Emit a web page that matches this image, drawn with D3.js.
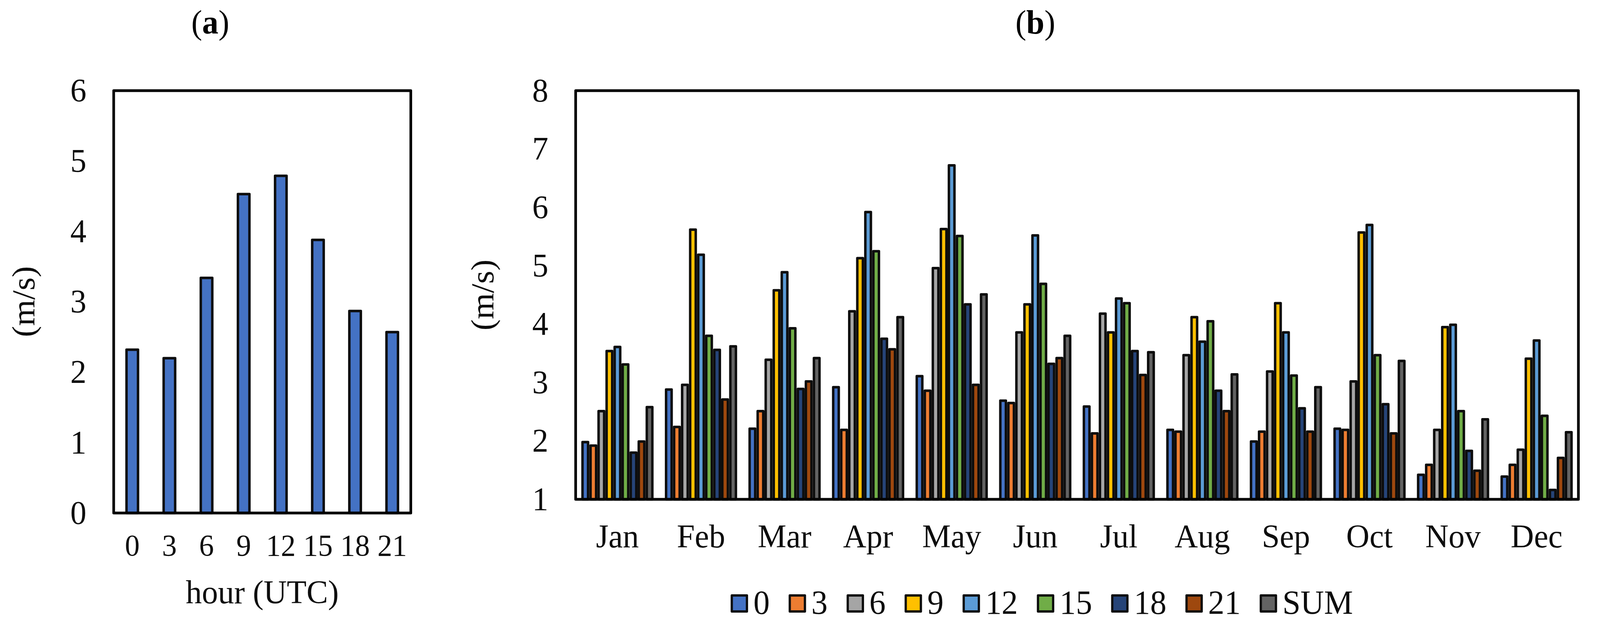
<!DOCTYPE html>
<html>
<head>
<meta charset="utf-8">
<script src="https://cdn.jsdelivr.net/npm/d3@7"></script>
<style>
  html, body { margin: 0; padding: 0; background: #fff; overflow: hidden; }
  svg { display: block; }
</style>
</head>
<body>
<div id="chart"></div>
<script>
// panel (a): mean wind speed by hour
const hours = ["0", "3", "6", "9", "12", "15", "18", "21"];
const hourlyMean = [2.32, 2.20, 3.34, 4.53, 4.79, 3.88, 2.87, 2.57];

// panel (b): monthly wind speed per observation hour
const months = ["Jan", "Feb", "Mar", "Apr", "May", "Jun", "Jul", "Aug", "Sep", "Oct", "Nov", "Dec"];
const seriesNames = ["0", "3", "6", "9", "12", "15", "18", "21", "SUM"];
const seriesColors = ["#4472C4", "#ED7D31", "#A5A5A5", "#FFC000", "#5B9BD5", "#70AD47", "#264478", "#9E480E", "#636363"];

const h00 = [1.98, 2.88, 2.21, 2.92, 3.11, 2.69, 2.59, 2.19, 1.99, 2.21, 1.42, 1.39];
const h03 = [1.92, 2.24, 2.51, 2.19, 2.86, 2.65, 2.13, 2.16, 2.16, 2.19, 1.59, 1.59];
const h06 = [2.51, 2.96, 3.39, 4.22, 4.96, 3.86, 4.18, 3.47, 3.19, 3.02, 2.19, 1.85];
const h09 = [3.54, 5.62, 4.58, 5.13, 5.63, 4.34, 3.86, 4.12, 4.36, 5.57, 3.95, 3.41];
const h12 = [3.61, 5.19, 4.89, 5.92, 6.72, 5.52, 4.44, 3.70, 3.86, 5.70, 3.99, 3.72];
const h15 = [3.31, 3.80, 3.93, 5.25, 5.51, 4.69, 4.36, 4.05, 3.12, 3.47, 2.51, 2.43];
const h18 = [1.80, 3.56, 2.89, 3.75, 4.34, 3.32, 3.54, 2.86, 2.56, 2.63, 1.83, 1.16];
const h21 = [1.99, 2.71, 3.02, 3.57, 2.96, 3.42, 3.13, 2.51, 2.16, 2.13, 1.49, 1.71];
const hSum = [2.58, 3.62, 3.42, 4.12, 4.51, 3.80, 3.52, 3.14, 2.92, 3.37, 2.37, 2.15];

const ticksA = [0, 1, 2, 3, 4, 5, 6];
const ticksB = [1, 2, 3, 4, 5, 6, 7, 8];

const seriesValues = [h00, h03, h06, h09, h12, h15, h18, h21, hSum];

// flat table for the grouped bars
const table = [];
months.forEach((m, i) => {
  seriesNames.forEach((s, j) => {
    table.push({ month: m, series: s, value: seriesValues[j][i], color: seriesColors[j] });
  });
});

const font = "'Liberation Serif', 'Times New Roman', serif";
const ink = "#0d0d0d";
const barStroke = 6.5;

// drawn in a 4222x1615 user space, stretched to whatever the viewport is
const svg = d3.select("#chart")
  .append("svg")
  .attr("viewBox", "0 0 4222 1615")
  .attr("preserveAspectRatio", "none")
  .style("width", "100vw")
  .style("height", "100vh")
  .style("background-color", "#fff");

// ---------- panel (a) ----------
const xA = d3.scaleBand()
  .domain(hours)
  .range([300, 1084])
  .paddingInner(0.69)
  .paddingOuter(0.345);

const yA = d3.scaleLinear()
  .domain([0, 6])
  .range([1313, 232]);

const panelA = svg.append("g");

panelA.selectAll("rect.bar")
  .data(hours.map((h, i) => ({ hour: h, value: hourlyMean[i] })))
  .join("rect")
  .attr("class", "bar")
  .attr("x", d => xA(d.hour))
  .attr("width", xA.bandwidth())
  .attr("y", d => yA(d.value))
  .attr("height", d => yA(0) - yA(d.value))
  .attr("fill", "#4472C4")
  .attr("stroke", ink)
  .attr("stroke-width", barStroke)
  .attr("stroke-linejoin", "round");

panelA.append("rect")
  .attr("x", 300)
  .attr("y", 232)
  .attr("width", 1084 - 300)
  .attr("height", 1313 - 232)
  .attr("fill", "none")
  .attr("stroke", "#000")
  .attr("stroke-width", 7)
  .attr("stroke-linejoin", "round");

const yAxisA = panelA.append("g")
  .attr("transform", "translate(300,0)")
  .call(d3.axisLeft(yA).tickValues(ticksA).tickFormat(d3.format("d")).tickSize(0).tickPadding(72));

const xAxisA = panelA.append("g")
  .attr("transform", "translate(0,1313)")
  .call(d3.axisBottom(xA).tickSize(0).tickPadding(54));

[yAxisA, xAxisA].forEach(g => {
  g.select(".domain").remove();
  g.selectAll(".tick text")
    .attr("fill", ink)
    .attr("font-family", font);
});
yAxisA.selectAll(".tick text").attr("font-size", 85);
xAxisA.selectAll(".tick text").attr("font-size", 78);

panelA.append("text")
  .text("hour (UTC)")
  .attr("x", 692)
  .attr("y", 1544)
  .attr("text-anchor", "middle")
  .attr("font-family", font)
  .attr("font-size", 85)
  .attr("fill", ink);

panelA.append("text")
  .text("(m/s)")
  .attr("transform", "translate(68,772) rotate(-90)")
  .attr("dy", "0.26em")
  .attr("text-anchor", "middle")
  .attr("font-family", font)
  .attr("font-size", 86)
  .attr("fill", ink);

const titleA = panelA.append("text")
  .attr("x", 555)
  .attr("y", 86)
  .attr("text-anchor", "middle")
  .attr("font-family", font)
  .attr("font-size", 86)
  .attr("fill", "#000");
titleA.append("tspan").text("(");
titleA.append("tspan").attr("font-weight", 700).text("a");
titleA.append("tspan").text(")");

// ---------- panel (b) ----------
const x0 = d3.scaleBand()
  .domain(months)
  .range([1519, 4165]);

const x1 = d3.scaleBand()
  .domain(seriesNames)
  .range([0, x0.bandwidth()])
  .paddingOuter(0.7);

const yB = d3.scaleLinear()
  .domain([1, 8])
  .range([1278, 232]);

const panelB = svg.append("g");

panelB.selectAll("rect.bar")
  .data(table)
  .join("rect")
  .attr("class", "bar")
  .attr("x", d => x0(d.month) + x1(d.series) + barStroke / 2)
  .attr("width", x1.bandwidth() - barStroke)
  .attr("y", d => yB(d.value))
  .attr("height", d => yB(1) - yB(d.value))
  .attr("fill", d => d.color)
  .attr("stroke", ink)
  .attr("stroke-width", barStroke)
  .attr("stroke-linejoin", "round");

panelB.append("rect")
  .attr("x", 1519)
  .attr("y", 232)
  .attr("width", 4165 - 1519)
  .attr("height", 1278 - 232)
  .attr("fill", "none")
  .attr("stroke", "#000")
  .attr("stroke-width", 7)
  .attr("stroke-linejoin", "round");

const yAxisB = panelB.append("g")
  .attr("transform", "translate(1519,0)")
  .call(d3.axisLeft(yB).tickValues(ticksB).tickFormat(d3.format("d")).tickSize(0).tickPadding(72));

const xAxisB = panelB.append("g")
  .attr("transform", "translate(0,1278)")
  .call(d3.axisBottom(x0).tickSize(0).tickPadding(63));

[yAxisB, xAxisB].forEach(g => {
  g.select(".domain").remove();
  g.selectAll(".tick text")
    .attr("fill", ink)
    .attr("font-family", font)
    .attr("font-size", 85);
});

panelB.append("text")
  .text("(m/s)")
  .attr("transform", "translate(1279,755) rotate(-90)")
  .attr("dy", "0.26em")
  .attr("text-anchor", "middle")
  .attr("font-family", font)
  .attr("font-size", 86)
  .attr("fill", ink);

const titleB = panelB.append("text")
  .attr("x", 2732)
  .attr("y", 86)
  .attr("text-anchor", "middle")
  .attr("font-family", font)
  .attr("font-size", 86)
  .attr("fill", "#000");
titleB.append("tspan").text("(");
titleB.append("tspan").attr("font-weight", 700).text("b");
titleB.append("tspan").text(")");

// legend
const legend = panelB.append("g")
  .attr("transform", "translate(1928,1521)");

let cursor = 0;
seriesNames.forEach((s, i) => {
  const item = legend.append("g").attr("transform", `translate(${cursor},0)`);
  item.append("rect")
    .attr("x", 3)
    .attr("y", 3)
    .attr("width", 40)
    .attr("height", 41)
    .attr("fill", seriesColors[i])
    .attr("stroke", ink)
    .attr("stroke-width", 6)
    .attr("stroke-linejoin", "round");
  const label = item.append("text")
    .text(s)
    .attr("x", 60)
    .attr("y", 50)
    .attr("font-family", font)
    .attr("font-size", 86)
    .attr("fill", ink);
  cursor += 60 + label.node().getComputedTextLength() + 50;
});
</script>
</body>
</html>
